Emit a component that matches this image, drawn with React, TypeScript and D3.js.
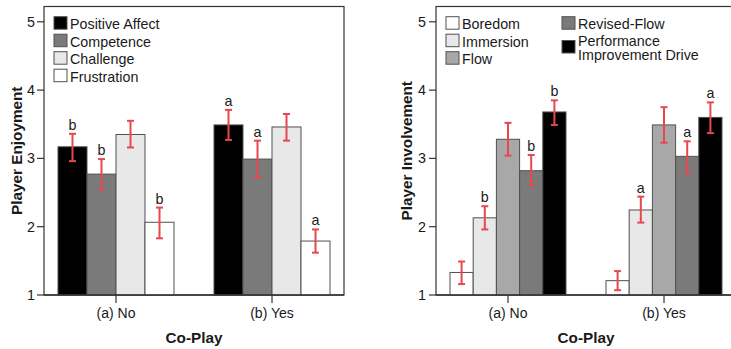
import React from 'react'
import * as d3 from 'd3'

// shared
const categories = ['(a) No', '(b) Yes']
const yTicks = [1, 2, 3, 4, 5]

// left panel: enjoyment
const enjoymentSeries = ['Positive Affect', 'Competence', 'Challenge', 'Frustration']
const enjoymentColors = ['#000000', '#7a7a7a', '#e8e8e8', '#ffffff']
const enjoymentMean = [
  [3.17, 2.77, 3.35, 2.065],
  [3.49, 2.99, 3.46, 1.79],
]
const enjoymentLow = [
  [2.96, 2.55, 3.16, 1.83],
  [3.27, 2.72, 3.26, 1.62],
]
const enjoymentHigh = [
  [3.36, 2.99, 3.55, 2.28],
  [3.71, 3.26, 3.65, 1.96],
]
const enjoymentSig = [
  ['b', 'b', '', 'b'],
  ['a', 'a', '', 'a'],
]

// right panel: involvement
const involvementSeries = ['Boredom', 'Immersion', 'Flow', 'Revised-Flow', 'Performance Improvement Drive']
const involvementColors = ['#ffffff', '#e8e8e8', '#a8a8a8', '#7a7a7a', '#000000']
const involvementMean = [
  [1.33, 2.13, 3.28, 2.82, 3.68],
  [1.21, 2.245, 3.49, 3.03, 3.6],
]
const involvementLow = [
  [1.16, 1.96, 3.04, 2.61, 3.49],
  [1.07, 2.06, 3.23, 2.79, 3.37],
]
const involvementHigh = [
  [1.49, 2.3, 3.52, 3.05, 3.85],
  [1.35, 2.44, 3.75, 3.25, 3.82],
]
const involvementSig = [
  ['', 'b', '', 'b', 'b'],
  ['', 'a', '', 'a', 'a'],
]

const FONT = '"Liberation Sans", Arial, sans-serif'
const TEXT = '#1a1a1a'
const ERR = '#e8474e'
const EDGE = '#505050'

type LegendItem = { name: string; color: string; x: number; y: number; lines: string[] }

type PanelProps = {
  left: number
  series: string[]
  colors: string[]
  mean: number[][]
  low: number[][]
  high: number[][]
  sig: string[][]
  yLabel: string
  yLabelX: number
  tickLabelEnd: number
  legend: LegendItem[]
}

const Panel = (p: PanelProps) => {
  const top = 6.5
  const bottom = 295
  const width = 300
  const y = d3.scaleLinear().domain([1, 5]).range([bottom, 21.8])
  const x0 = d3.scalePoint<string>().domain(categories).range([p.left, p.left + width]).padding(0.4615)
  const groupW = 116
  const x1 = d3.scaleBand<string>().domain(p.series).range([-groupW / 2, groupW / 2]).padding(0)
  const bw = x1.bandwidth()

  return (
    <g fontFamily={FONT} fill={TEXT}>
      {/* frame */}
      <rect x={p.left} y={top} width={width} height={bottom - top} fill="#fff" stroke="#333" strokeWidth={1.2} />

      {/* bars */}
      {categories.map((c, ci) =>
        p.series.map((s, si) => {
          const bx = (x0(c) as number) + (x1(s) as number)
          const cx = bx + bw / 2
          const v = p.mean[ci][si]
          const hi = y(p.high[ci][si])
          const lo = y(p.low[ci][si])
          return (
            <g key={c + s}>
              <rect x={bx} y={y(v)} width={bw} height={bottom - y(v)} fill={p.colors[si]} stroke={EDGE} strokeWidth={1} />
              <line x1={cx} x2={cx} y1={hi} y2={lo} stroke={ERR} strokeWidth={2} />
              <line x1={cx - 3.5} x2={cx + 3.5} y1={hi} y2={hi} stroke={ERR} strokeWidth={2} />
              <line x1={cx - 3.5} x2={cx + 3.5} y1={lo} y2={lo} stroke={ERR} strokeWidth={2} />
              {p.sig[ci][si] && (
                <text x={cx} y={hi - 4} textAnchor="middle" fontSize={14.3}>
                  {p.sig[ci][si]}
                </text>
              )}
            </g>
          )
        })
      )}

      {/* y axis */}
      {yTicks.map((t) => (
        <g key={t}>
          <line x1={p.left - 7} x2={p.left} y1={y(t)} y2={y(t)} stroke="#333" strokeWidth={1.2} />
          <text x={p.tickLabelEnd} y={y(t)} dy="0.35em" textAnchor="end" fontSize={14.3}>
            {t}
          </text>
        </g>
      ))}
      <line x1={p.left} x2={p.left + width} y1={bottom} y2={bottom} stroke="#333" strokeWidth={1.5} />

      {/* x axis */}
      {categories.map((c) => (
        <g key={c}>
          <line x1={x0(c)} x2={x0(c)} y1={bottom} y2={bottom + 8} stroke="#333" strokeWidth={1.2} />
          <text x={x0(c)} y={318} textAnchor="middle" fontSize={14}>
            {c}
          </text>
        </g>
      ))}
      <text x={(x0(categories[0])! + x0(categories[1])!) / 2} y={343} textAnchor="middle" fontSize={15.3} fontWeight="bold">
        Co-Play
      </text>
      <text
        transform={`translate(${p.yLabelX},${(top + bottom) / 2}) rotate(-90)`}
        textAnchor="middle"
        fontSize={15.3}
        fontWeight="bold"
      >
        {p.yLabel}
      </text>

      {/* legend */}
      {p.legend.map((l) => (
        <g key={l.name}>
          <rect x={l.x} y={l.y} width={13} height={12.5} fill={l.color} stroke={EDGE} strokeWidth={1} />
          {l.lines.length === 1 ? (
            <text x={l.x + 16} y={l.y + 12.3} fontSize={14.3}>
              {l.lines[0]}
            </text>
          ) : (
            <text x={l.x + 16} fontSize={14.3}>
              <tspan x={l.x + 16} y={l.y + 5}>
                {l.lines[0]}
              </tspan>
              <tspan x={l.x + 16} y={l.y + 19.3}>
                {l.lines[1]}
              </tspan>
            </text>
          )}
        </g>
      ))}
    </g>
  )
}

const App = () => {
  const leftLegend: LegendItem[] = enjoymentSeries.map((s, i) => ({
    name: s,
    color: enjoymentColors[i],
    x: 54,
    y: 16.7 + i * 17.5,
    lines: [s],
  }))
  const rightLegend: LegendItem[] = [
    { name: involvementSeries[0], color: involvementColors[0], x: 446, y: 16.7, lines: ['Boredom'] },
    { name: involvementSeries[1], color: involvementColors[1], x: 446, y: 34.2, lines: ['Immersion'] },
    { name: involvementSeries[2], color: involvementColors[2], x: 446, y: 51.7, lines: ['Flow'] },
    { name: involvementSeries[3], color: involvementColors[3], x: 562, y: 16.7, lines: ['Revised-Flow'] },
    { name: involvementSeries[4], color: involvementColors[4], x: 562, y: 40.5, lines: ['Performance', 'Improvement Drive'] },
  ]

  return (
    <svg width={731} height={349} style={{ position: 'absolute', left: 0, top: 0, background: '#fff' }}>
      <rect width={731} height={349} fill="#fff" />
      <Panel
        left={44}
        series={enjoymentSeries}
        colors={enjoymentColors}
        mean={enjoymentMean}
        low={enjoymentLow}
        high={enjoymentHigh}
        sig={enjoymentSig}
        yLabel="Player Enjoyment"
        yLabelX={21.5}
        tickLabelEnd={35}
        legend={leftLegend}
      />
      <Panel
        left={436}
        series={involvementSeries}
        colors={involvementColors}
        mean={involvementMean}
        low={involvementLow}
        high={involvementHigh}
        sig={involvementSig}
        yLabel="Player Involvement"
        yLabelX={412}
        tickLabelEnd={426}
        legend={rightLegend}
      />
    </svg>
  )
}

export default App
